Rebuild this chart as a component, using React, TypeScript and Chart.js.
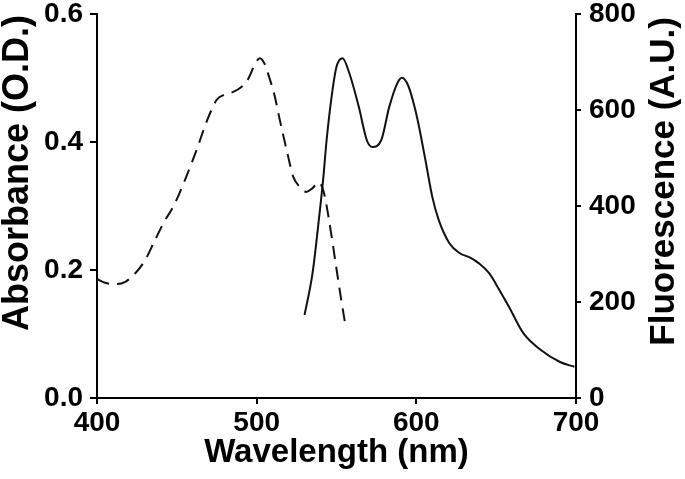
import React, { useEffect, useRef } from 'react';
import { Chart, registerables } from 'chart.js';

Chart.register(...registerables);

// Absorbance spectrum (dashed, left axis)
const absWavelengths = [400, 405, 412, 418, 424, 430, 436, 442, 448, 455, 462, 469, 475, 480, 485, 490, 495, 499, 502, 505, 508, 511, 514, 519, 523, 527, 531, 535, 539, 542, 545, 548, 551, 553, 555.5];
const absValues = [0.186, 0.180, 0.178, 0.182, 0.195, 0.215, 0.245, 0.275, 0.300, 0.340, 0.385, 0.434, 0.466, 0.474, 0.478, 0.485, 0.500, 0.522, 0.531, 0.522, 0.500, 0.475, 0.440, 0.385, 0.345, 0.330, 0.322, 0.328, 0.337, 0.322, 0.283, 0.235, 0.185, 0.153, 0.115];

// Fluorescence spectrum (solid, right axis)
const flWavelengths = [530, 535, 539.4, 541.6, 543.8, 546.9, 550, 553.8, 558, 564, 569, 572.5, 578, 583, 588, 591, 595, 599, 602, 606, 610, 614, 620.6, 627, 634, 639, 645.6, 652, 658, 667, 678, 690, 699];
const flValues = [173, 260, 385, 454, 537, 627, 690, 708, 677, 606, 537, 523, 537, 606, 655, 667, 650, 605, 560, 490, 419, 371, 323, 302, 292, 281, 260, 225, 190, 135, 100, 75, 65];

const xMin = 400;
const xMax = 700;
const xStep = 100;
const absMin = 0;
const absMax = 0.6;
const absStep = 0.2;
const flMin = 0;
const flMax = 800;
const flStep = 200;

const xTitle = 'Wavelength (nm)';
const absTitle = 'Absorbance (O.D.)';
const flTitle = 'Fluorescence (A.U.)';

const FONT_FAMILY = '"Liberation Sans", Arial, Helvetica, sans-serif';

const sideTitles = {
  id: 'sideTitles',
  afterDraw(chart: any) {
    const { ctx, chartArea } = chart;
    ctx.save();
    ctx.fillStyle = '#000';
    ctx.textBaseline = 'middle';
    ctx.textAlign = 'right';
    ctx.save();
    ctx.font = `bold 36px ${FONT_FAMILY}`;
    ctx.translate(18, chartArea.top + 1);
    ctx.rotate(-Math.PI / 2);
    ctx.fillText(absTitle, 0, 0);
    ctx.restore();
    ctx.save();
    ctx.font = `bold 35px ${FONT_FAMILY}`;
    ctx.translate(664, chartArea.top + 3);
    ctx.rotate(-Math.PI / 2);
    ctx.fillText(flTitle, 0, 0);
    ctx.restore();
    ctx.restore();
  },
};

export default function App() {
  const ref = useRef<HTMLCanvasElement | null>(null);

  useEffect(() => {
    document.body.style.margin = '0';
    const canvas = ref.current;
    if (!canvas) return;
    const tickFont = { family: FONT_FAMILY, size: 28, weight: 'bold' as const };
    const fixSize = (w: number | null, h: number | null) => (scale: any) => {
      if (w !== null) scale.width = w;
      if (h !== null) scale.height = h;
      scale.paddingTop = 0;
      scale.paddingBottom = 0;
      scale.paddingLeft = 0;
      scale.paddingRight = 0;
    };
    const chart = new Chart(canvas, {
      type: 'line',
      data: {
        datasets: [
          {
            label: absTitle,
            data: absWavelengths.map((x, i) => ({ x, y: absValues[i] })),
            yAxisID: 'y',
            borderColor: '#111',
            borderWidth: 2,
            borderDash: [13, 8],
            pointRadius: 0,
            fill: false,
            cubicInterpolationMode: 'monotone',
          },
          {
            label: flTitle,
            data: flWavelengths.map((x, i) => ({ x, y: flValues[i] })),
            yAxisID: 'y1',
            borderColor: '#111',
            borderWidth: 2,
            pointRadius: 0,
            fill: false,
            cubicInterpolationMode: 'monotone',
          },
        ],
      },
      options: {
        responsive: false,
        animation: false,
        layout: { padding: { top: 14, left: 0, right: 0, bottom: 0 } },
        plugins: { legend: { display: false }, tooltip: { enabled: false } },
        scales: {
          x: {
            type: 'linear',
            min: xMin,
            max: xMax,
            afterFit: fixSize(null, 81),
            ticks: { stepSize: xStep, color: '#000', font: tickFont, padding: 2, maxRotation: 0 },
            grid: { drawOnChartArea: false, drawTicks: true, tickLength: 6, color: '#000', lineWidth: 2 },
            border: { display: true, color: '#000', width: 2 },
            title: {
              display: true,
              text: xTitle,
              color: '#000',
              font: { family: FONT_FAMILY, size: 33, weight: 'bold' },
              padding: { top: 0, bottom: 6 },
            },
          },
          y: {
            type: 'linear',
            position: 'left',
            min: absMin,
            max: absMax,
            afterFit: fixSize(97, null),
            ticks: {
              stepSize: absStep,
              color: '#000',
              font: tickFont,
              padding: 7,
              callback: (v: any) => Number(v).toFixed(1),
            },
            grid: { drawOnChartArea: false, drawTicks: true, tickLength: 7, color: '#000', lineWidth: 2 },
            border: { display: true, color: '#000', width: 2 },
          },
          y1: {
            type: 'linear',
            position: 'right',
            min: flMin,
            max: flMax,
            afterFit: fixSize(109, null),
            ticks: { stepSize: flStep, color: '#000', font: tickFont, padding: 8 },
            grid: { drawOnChartArea: false, drawTicks: true, tickLength: 5, color: '#000', lineWidth: 2 },
            border: { display: true, color: '#000', width: 2 },
          },
        },
      },
      plugins: [sideTitles],
    });
    return () => chart.destroy();
  }, []);

  return <canvas ref={ref} width={685} height={479} style={{ display: 'block' }} />;
}
